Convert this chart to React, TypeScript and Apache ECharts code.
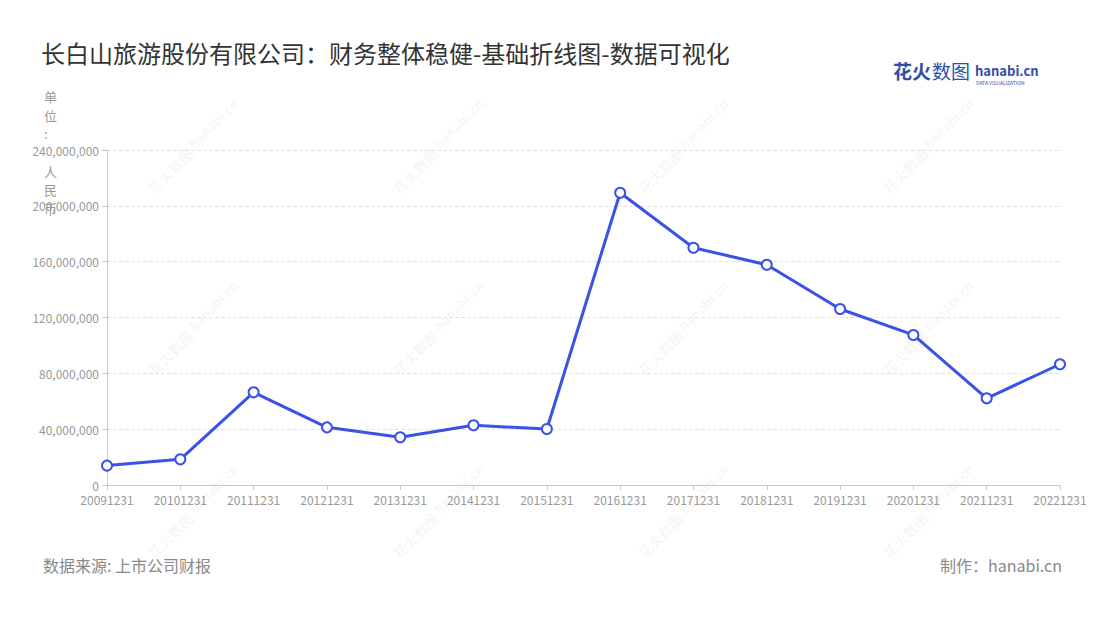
import React, { useEffect, useRef } from "react";
import * as echarts from "echarts";

const categories = ["20091231","20101231","20111231","20121231","20131231","20141231","20151231","20161231","20171231","20181231","20191231","20201231","20211231","20221231"];
const values = [13900000, 18400000, 66400000, 41300000, 34200000, 42800000, 40100000, 209400000, 170000000, 157800000, 126100000, 107500000, 62100000, 86500000];
const yTicks = { min: 0, max: 240000000, interval: 40000000 };
const titleText = "长白山旅游股份有限公司：财务整体稳健-基础折线图-数据可视化";
const unitText = "单\n位\n:\n \n人\n民\n币";
const sourceText = "数据来源: 上市公司财报";
const makerText = "制作：hanabi.cn";

const FONT = "'Noto Sans CJK SC', 'Noto Sans', sans-serif";

function watermarks() {
  const out: any[] = [];
  const xs = [185, 430, 675, 920];
  const ys = [140, 322, 505];
  const fill = "rgba(0,0,0,0.055)";
  for (const x of xs) {
    for (const y of ys) {
      out.push({
        type: "group",
        x, y,
        rotation: Math.PI / 4,
        silent: true,
        z: -10,
        children: [
          { type: "text", x: -4, y: 0, style: { text: "花火数图", fill, font: `bold 14px ${FONT}`, textAlign: "right", textVerticalAlign: "middle" } },
          { type: "text", x: 0, y: -3, style: { text: "hanabi.cn", fill, font: `bold 13px ${FONT}`, textAlign: "left", textVerticalAlign: "middle" } },
          { type: "text", x: 1, y: 7, style: { text: "DATA VISUALIZATION", fill, font: `4px ${FONT}`, textAlign: "left", textVerticalAlign: "middle" } },
        ],
      });
    }
  }
  return out;
}

export default function App() {
  const ref = useRef<HTMLDivElement>(null);
  useEffect(() => {
    if (!ref.current) return;
    const chart = echarts.init(ref.current, undefined, { renderer: "svg" });
    chart.setOption({
      animation: false,
      backgroundColor: "#fff",
      title: {
        text: titleText,
        left: 28,
        top: 27,
        textStyle: { fontSize: 24, fontWeight: "normal", color: "#333", fontFamily: FONT },
      },
      grid: { left: 99, right: 32, top: 142, bottom: 127, containLabel: false },
      xAxis: {
        type: "category",
        data: categories,
        boundaryGap: false,
        axisLine: { lineStyle: { color: "#c8c8c8" } },
        axisTick: { show: true, lineStyle: { color: "#c8c8c8" } },
        axisLabel: { color: "#999", fontSize: 12, fontFamily: FONT, margin: 8, interval: 0 },
      },
      yAxis: {
        type: "value",
        min: yTicks.min,
        max: yTicks.max,
        interval: yTicks.interval,
        axisLine: { show: true, lineStyle: { color: "#c8c8c8" } },
        axisTick: { show: true, lineStyle: { color: "#c8c8c8" } },
        axisLabel: {
          color: "#999",
          fontSize: 12,
          fontFamily: FONT,
          formatter: (v: number) => v.toLocaleString("en-US"),
        },
        splitLine: { lineStyle: { color: "#e3e3e3", type: "dashed" } },
      },
      series: [
        {
          type: "line",
          data: values,
          symbol: "circle",
          symbolSize: 10,
          showAllSymbol: true,
          lineStyle: { color: "#3a52e6", width: 3 },
          itemStyle: { color: "#fff", borderColor: "#3a52e6", borderWidth: 2 },
        },
      ],
      graphic: [
        ...watermarks(),
        {
          type: "text",
          left: 36,
          top: 79,
          style: { text: unitText, fill: "#999", font: `13px ${FONT}`, lineHeight: 18.7 },
        },
        {
          type: "text",
          left: 35,
          top: 549,
          style: { text: sourceText, fill: "#888", font: `16px ${FONT}` },
        },
        {
          type: "text",
          right: 30,
          top: 549,
          style: { text: makerText, fill: "#888", font: `16px ${FONT}` },
        },
        {
          type: "text",
          left: 885,
          top: 53,
          style: { text: "花火", fill: "#2d4fa8", font: `bold 19px ${FONT}` },
        },
        {
          type: "text",
          left: 924,
          top: 53,
          style: { text: "数图", fill: "#2d4fa8", font: `19px ${FONT}` },
        },
        {
          type: "text",
          left: 967,
          top: 56,
          style: { text: "hanabi.cn", fill: "#2d4fa8", font: `bold 13px ${FONT}` },
        },
        {
          type: "text",
          left: 968,
          top: 72,
          style: { text: "DATA VISUALIZATION", fill: "#2d4fa8", font: `5px ${FONT}` },
        },
      ],
    });
    return () => chart.dispose();
  }, []);
  return <div ref={ref} style={{ width: 1084, height: 604 }} />;
}
